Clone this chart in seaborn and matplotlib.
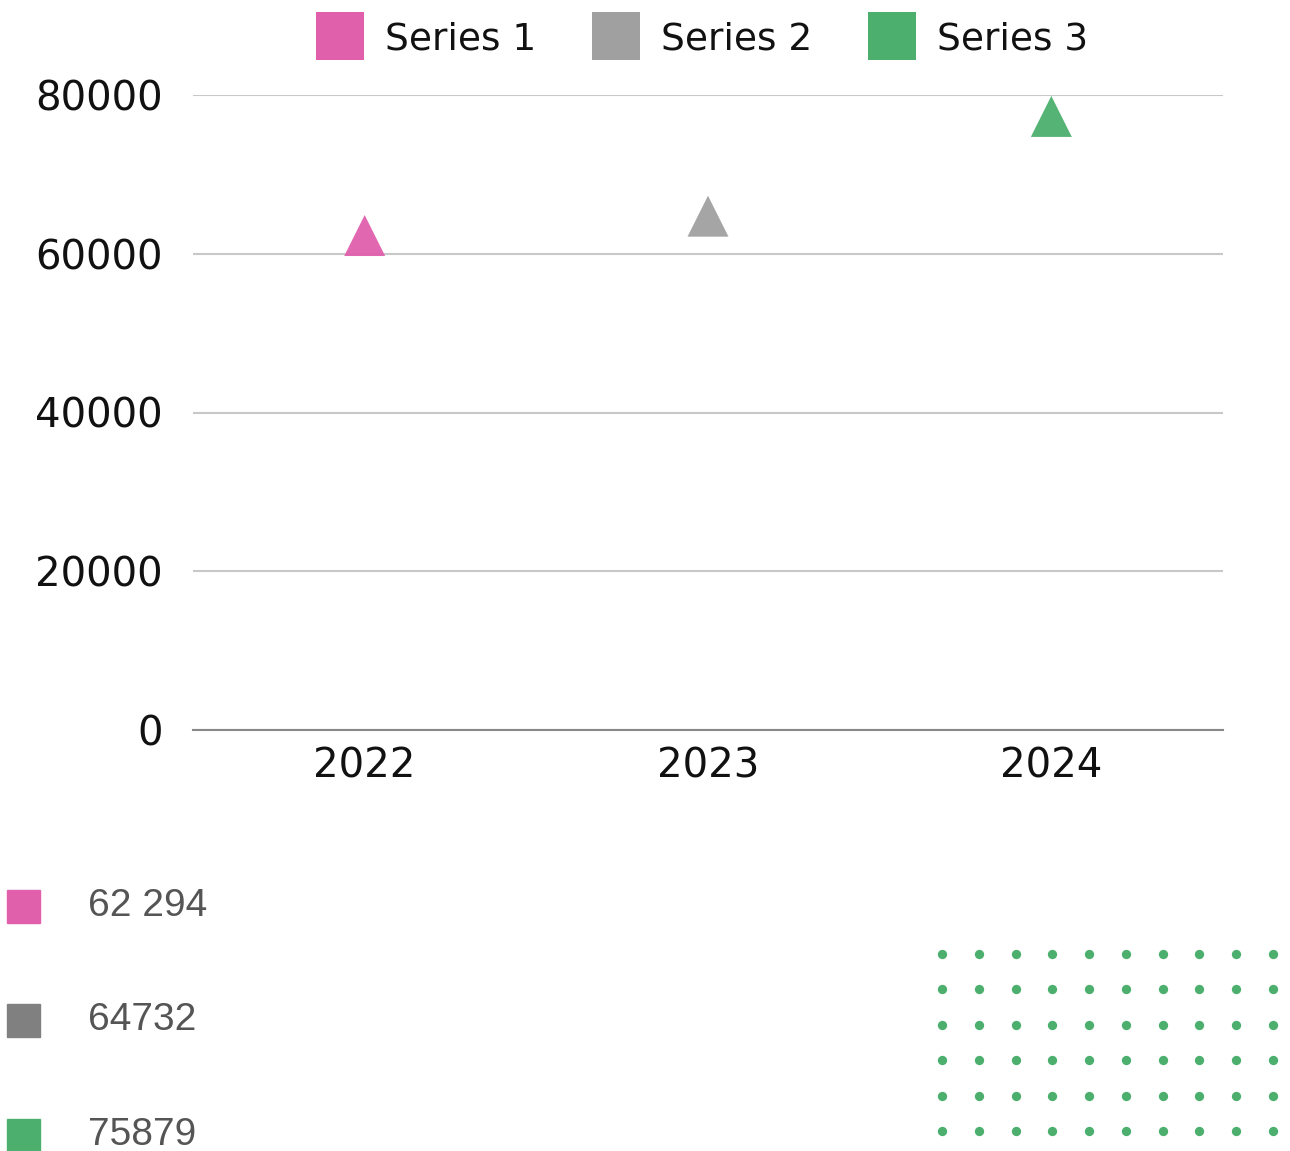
import matplotlib
matplotlib.use('Agg')
import matplotlib.pyplot as plt
from matplotlib.lines import Line2D
import numpy as np
import pandas as pd
import seaborn as sns

# --- Data ---
years = ['2022', '2023', '2024']
series = ['Series 1', 'Series 2', 'Series 3']
values = [62294, 64732, 77300]
value_labels = ['62 294', '64732', '75879']
colors = ['#e060ac', '#a0a0a0', '#4caf6e']
swatch_colors = ['#e060ac', '#808080', '#4caf6e']
y_ticks = [0, 20000, 40000, 60000, 80000]

df = pd.DataFrame({'year': years, 'series': series, 'value': values})

# --- Figure ---
sns.set_style('white')
plt.rcParams['font.family'] = ['DejaVu Sans']
fig = plt.figure(figsize=(12.9, 11.51), dpi=100)
ax = fig.add_axes([193 / 1290, 1 - 730 / 1151, 1030 / 1290, 635 / 1151])

sns.scatterplot(data=df, x='year', y='value', hue='series', palette=colors,
                marker='^', s=870, linewidth=0, alpha=0.95, ax=ax,
                legend=False, clip_on=False, zorder=3)

ax.set_xlim(-0.5, 2.5)
ax.set_ylim(0, 80000)
ax.set_yticks(y_ticks)
ax.set_yticklabels([str(t) for t in y_ticks])
ax.set_xlabel('')
ax.set_ylabel('')
ax.grid(axis='y', color='#c8c8c8', linewidth=1.5)
ax.grid(axis='x', visible=False)
for s in ['top', 'right', 'left']:
    ax.spines[s].set_visible(False)
ax.spines['bottom'].set_color('#888888')
ax.spines['bottom'].set_linewidth(1.5)
ax.tick_params(axis='y', length=0, pad=22, labelsize=29, labelcolor='#111111')
ax.tick_params(axis='x', length=0, pad=12, labelsize=29, labelcolor='#111111')

# --- Top legend ---
handles = [Line2D([], [], marker='s', linestyle='', markersize=34.5,
                  markerfacecolor=c, markeredgewidth=0) for c in colors]
leg = fig.legend(handles, series, loc='upper center', ncol=3, frameon=False,
                 bbox_to_anchor=(0.5433, 1.011), fontsize=27, handletextpad=0.5,
                 columnspacing=1.42, handlelength=1.4)
for t in leg.get_texts():
    t.set_color('#111111')

# --- Bottom value labels ---
for i, (lab, c) in enumerate(zip(value_labels, swatch_colors)):
    yc = 1 - (906 + i * 114.5) / 1151
    fig.patches.append(plt.Rectangle((7 / 1290, yc - 16.5 / 1151), 33 / 1290, 33 / 1151,
                                     transform=fig.transFigure, color=c, figure=fig))
    fig.text(88 / 1290, yc, lab, fontsize=28, color='#555555', va='center',
             family=['Liberation Sans', 'DejaVu Sans'])

# --- Decorative dot grid ---
dax = fig.add_axes([942 / 1290, 1 - 1131 / 1151, 331 / 1290, 177 / 1151])
gx, gy = np.meshgrid(np.arange(10), np.arange(6))
dax.scatter(gx.ravel(), gy.ravel(), s=45, color='#4caf6e', linewidth=0, clip_on=False)
dax.set_xlim(0, 9)
dax.set_ylim(0, 5)
dax.axis('off')

fig.savefig('out.png', dpi=100)
